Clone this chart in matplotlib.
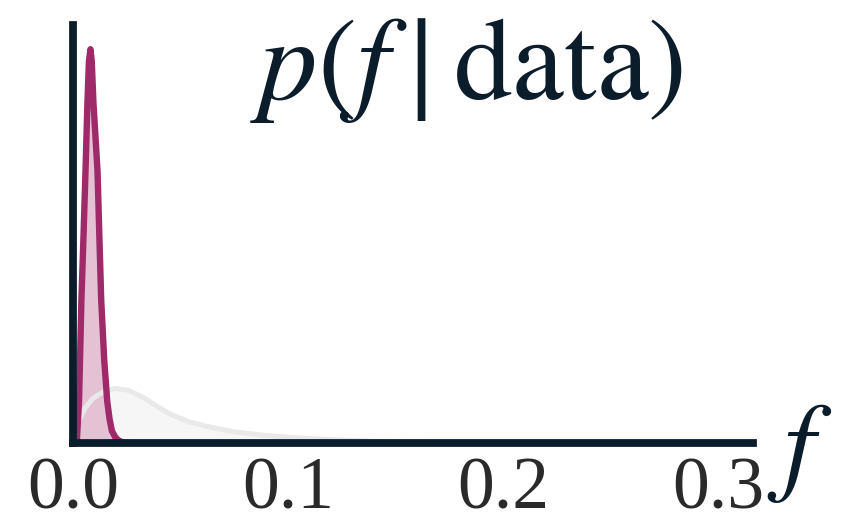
import matplotlib
matplotlib.use("Agg")
import matplotlib.pyplot as plt

# posterior p(f | data) - narrow peak
post_f = [0.0, 0.0009, 0.0018, 0.0028, 0.0039, 0.0049, 0.0058, 0.0067, 0.0074,
          0.0081, 0.0087, 0.0095, 0.0105, 0.0114, 0.0123, 0.0131, 0.0145,
          0.0159, 0.0170, 0.0181, 0.0196, 0.0209, 0.0227, 0.0248, 0.0270]
post_p = [0, 0, 1, 14, 48, 70, 91, 114, 128,
          132, 128, 114, 102, 91, 68, 48, 28,
          14, 8, 4, 2, 1, 0.3, 0, 0]

# prior (light grey, broad)
prior_f = [0.0, 0.0010, 0.0056, 0.0093, 0.0145, 0.0195, 0.0256, 0.0326, 0.0391,
           0.0451, 0.0544, 0.0638, 0.0753, 0.0870, 0.0986, 0.1100, 0.1240,
           0.1520, 0.1800, 0.2160, 0.3160]
prior_p = [3, 5, 11.7, 15, 17.3, 18.3, 17.7, 15.3, 12.3,
           9.7, 7, 5.3, 3.7, 2.7, 2, 1.5, 1,
           0.3, 0, 0, 0]

xticks = [0.0, 0.1, 0.2, 0.3]
xtick_labels = ["0.0", "0.1", "0.2", "0.3"]

navy = "#0b1c2b"
magenta = "#9e2a69"
pink = "#e4c2d4"
grey_line = "#e9e9e9"
grey_fill = "#f6f6f6"

plt.rcParams["mathtext.fontset"] = "stix"

fig = plt.figure(figsize=(8.56, 5.24), dpi=100)
ax = fig.add_axes([0.0853, 0.1546, 0.794, 0.797])

ax.fill_between(prior_f, prior_p, color=grey_fill, lw=0, zorder=1)
ax.fill_between(post_f, post_p, color=pink, lw=0, zorder=2)
ax.plot(prior_f, prior_p, color=grey_line, lw=3.6, zorder=3, solid_capstyle="round")
ax.plot(post_f, post_p, color=magenta, lw=4.6, zorder=4, solid_capstyle="round")

ax.set_xlim(0, 0.316)
ax.set_ylim(0, 140)
ax.set_yticks([])
ax.set_xticks(xticks)
ax.set_xticklabels(xtick_labels, family="Liberation Serif", fontsize=53,
                   color="#2a2a2a")
ax.tick_params(axis="x", length=0, pad=10)

for side in ["top", "right"]:
    ax.spines[side].set_visible(False)
for side in ["left", "bottom"]:
    ax.spines[side].set_color(navy)
    ax.spines[side].set_linewidth(5.6)
    ax.spines[side].set_zorder(5)

ax.text(0.579, 1.036, r"$p(f\mid\mathrm{data})$", transform=ax.transAxes,
        ha="center", va="top", fontsize=84, color=navy)
ax.text(1.069, -0.02, r"$f$", transform=ax.transAxes, ha="center",
        va="center", fontsize=80, color=navy)

fig.savefig("out.png", dpi=100, facecolor="white")
